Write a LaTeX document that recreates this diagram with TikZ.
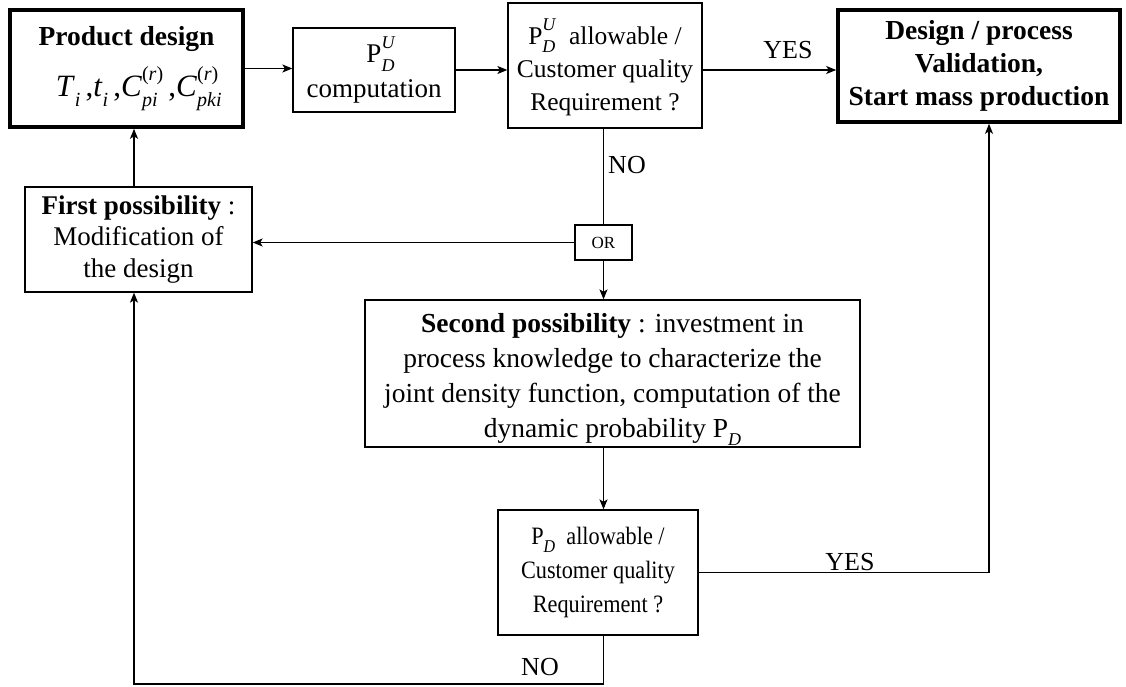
\documentclass[tikz,border=0pt]{standalone}
\usepackage{fontspec}
\setmainfont{Liberation Serif}
\usetikzlibrary{arrows.meta}
\newcommand\SmallScr{\fontsize{18}{18}\selectfont}
\newcommand\Sb[1]{\raisebox{-0.32em}{\SmallScr #1}}
\newcommand\SupSub[2]{%
  \setbox0\hbox{\SmallScr #1}\setbox2\hbox{\SmallScr #2}%
  \dimen0=\ifdim\wd0>\wd2 \wd0\else\wd2\fi
  \rlap{\raisebox{0.52em}{\copy0}}\rlap{\raisebox{-0.32em}{\copy2}}\hspace{\dimen0}}
\newcommand\Lower[2]{\raisebox{-#1}[\height][\depth]{\begin{tabular}{@{}c@{}}#2\end{tabular}}}
\begin{document}
\begin{tikzpicture}[x=1pt,y=-1pt,
  box/.style={draw, line width=1.3pt, inner sep=0pt, align=center,
    font=\fontsize{27}{33}\selectfont},
  tbox/.style={box, line width=3.6pt},
  arr/.style={line width=1.2pt, -{Stealth[length=10pt,width=8pt,inset=2.5pt]}},
  ln/.style={line width=1.2pt},
  lab/.style={font=\fontsize{26}{30}\selectfont, inner sep=0pt}]
\useasboundingbox (0,0) rectangle (1126,687);

\node[tbox, minimum width=233pt, minimum height=117pt, font=\fontsize{27.5}{33}\selectfont] (pd) at (126.5,68.5)
  {\textbf{Product design}\\[14pt]
   {\renewcommand\SmallScr{\fontsize{20}{20}\selectfont}\fontsize{31}{33}\selectfont
   \textit{T}\Sb{\textit{i}}\,,\textit{t}\Sb{\textit{i}}\,,\textit{C}\SupSub{(\textit{r})}{\textit{pi}}\,,\textit{C}\SupSub{(\textit{r})}{\textit{pki}}}};

\node[box, minimum width=162pt, minimum height=84pt] (comp) at (374,70)
  {P\SupSub{\textit{U}}{\textit{D}}\\[2pt] computation};

\node[box, minimum width=194pt, minimum height=125pt, font=\fontsize{25.5}{33}\selectfont] (dec1) at (605,65.5)
  {\Lower{4pt}{P\SupSub{\textit{U}}{\textit{D}}\ \ allowable /\\ Customer quality\\ Requirement ?}};

\node[tbox, minimum width=282pt, minimum height=112pt, font=\fontsize{27.5}{33}\selectfont] (des) at (979,66)
  {\bfseries Design / process\\ \bfseries Validation,\\ \bfseries Start mass production};

\node[box, minimum width=57pt, minimum height=35pt, font=\fontsize{17}{17}\selectfont] (or) at (603.5,242.5) {OR};

\node[box, minimum width=227pt, minimum height=105pt, font=\fontsize{27}{31.5}\selectfont] (fp) at (138.5,239.5)
  {\textbf{First possibility} :\\ Modification of\\ the design};

\node[box, minimum width=495pt, minimum height=147pt, font=\fontsize{27.5}{35}\selectfont] (sp) at (612.5,373.5)
  {\Lower{4pt}{\textbf{Second possibility} : investment in\\ process knowledge to characterize the\\ joint density function, computation of the\\ dynamic probability P\Sb{\textit{D}}}};

\node[box, minimum width=200pt, minimum height=125pt, font=\fontsize{25}{34}\selectfont] (dec2) at (598,572.5)
  {\scalebox{0.89}[1]{P\Sb{\textit{D}}\ \ allowable /}\\ \scalebox{0.89}[1]{Customer quality}\\ \scalebox{0.89}[1]{Requirement ?}};

\coordinate (lx) at (134,0);
\coordinate (rx) at (989,0);
\coordinate (bot) at (0,684);

\draw[arr] (pd.east) -- (pd.east -| comp.west);
\draw[arr] (comp.east) -- (comp.east -| dec1.west);
\draw[arr] (dec1.east |- comp.east) -- (comp.east -| des.west);
\draw[ln] (or.north |- dec1.south) -- (or.north);
\draw[arr] (or.west) -- (or.west -| fp.east);
\draw[arr] (fp.north -| lx) -- (pd.south -| lx);
\draw[arr] (or.south) -- (or.south |- sp.north);
\draw[arr] (sp.south -| or) -- (dec2.north -| or);
\draw[arr] (dec2.east) -| (des.south -| rx);
\draw[arr] (dec2.south -| or) -- (or |- bot) -| (fp.south -| lx);

\node[lab] (yes1) at (788,50) {YES};
\node[lab] (no1) at (627,165) {NO};
\node[lab] (yes2) at (850,562) {YES};
\node[lab] (no2) at (540,667) {NO};
\end{tikzpicture}
\end{document}
